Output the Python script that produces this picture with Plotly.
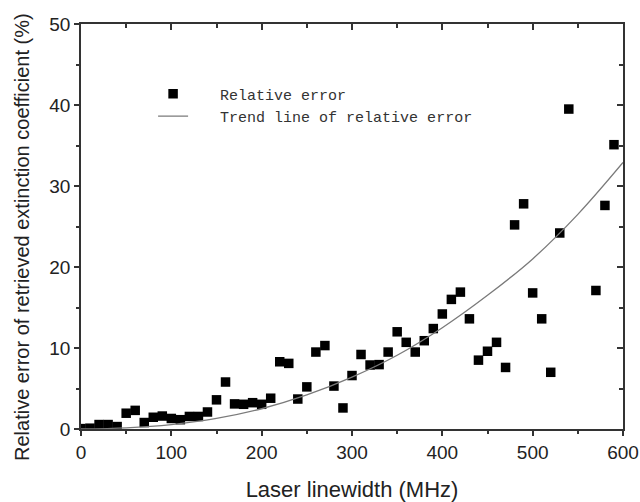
import plotly.graph_objects as go

# Measured points: laser linewidth (MHz) and relative error (%)
linewidth = [0, 10, 20, 30, 40, 50, 60, 70, 80, 90,
             100, 110, 120, 130, 140, 150, 160, 170, 180, 190,
             200, 210, 220, 230, 240, 250, 260, 270, 280, 290,
             300, 310, 320, 330, 340, 350, 360, 370, 380, 390,
             400, 410, 420, 430, 440, 450, 460, 470, 480, 490,
             500, 510, 520, 530, 540, 570, 580, 590]
rel_error = [0.05, 0.1, 0.55, 0.55, 0.3, 1.95, 2.3, 0.8, 1.45, 1.6,
             1.3, 1.15, 1.55, 1.55, 2.1, 3.6, 5.8, 3.1, 3.05, 3.25,
             3.05, 3.8, 8.3, 8.1, 3.7, 5.2, 9.5, 10.3, 5.3, 2.6,
             6.6, 9.2, 7.9, 7.95, 9.5, 12.0, 10.7, 9.5, 10.9, 12.4,
             14.2, 16.0, 16.9, 13.6, 8.5, 9.6, 10.7, 7.6, 25.2, 27.8,
             16.8, 13.6, 7.0, 24.2, 39.5, 17.1, 27.6, 35.1]

# Trend line
trend_x = [0, 50, 100, 150, 200, 250, 300, 350, 400, 450, 500, 550, 600]
trend_y = [0.0, 0.15, 0.55, 1.3, 2.5, 4.2, 6.4, 9.1, 12.5, 16.5, 21.0, 26.5, 32.9]

x_ticks = [0, 100, 200, 300, 400, 500, 600]
y_ticks = [0, 10, 20, 30, 40, 50]

x_title = "Laser linewidth (MHz)"
y_title = "Relative error of retrieved extinction coefficient (%)"

NB = "\u00a0"
SANS = "Liberation Sans, Arial, sans-serif"
fig = go.Figure()
fig.add_trace(go.Scatter(
    x=linewidth, y=rel_error, mode="markers",
    name=NB * 3 + "Relative error",
    marker=dict(symbol="square", size=9.5, color="black"),
))
fig.add_trace(go.Scatter(
    x=trend_x, y=trend_y, mode="lines",
    name=NB * 3 + "Trend line of relative error",
    line=dict(color="#7a7a7a", width=1.3, shape="spline"),
))
# empty trace to anchor the mirrored top/right axes
fig.add_trace(go.Scatter(x=[], y=[], xaxis="x2", yaxis="y2", showlegend=False))

axis_font = dict(family=SANS, size=19, color="#222")
line_col = "#333"

fig.update_layout(
    width=640, height=502,
    margin=dict(l=81, r=17, t=24, b=73),
    paper_bgcolor="white", plot_bgcolor="white",
    font=dict(family=SANS, color="#222"),
    xaxis=dict(
        range=[0, 600], tickvals=x_ticks, ticks="outside", ticklen=5, tickwidth=1.5,
        tickcolor=line_col, showline=True, linecolor=line_col, linewidth=1.5,
        showgrid=False, zeroline=False, tickfont=axis_font, automargin=False,
        minor=dict(dtick=50, ticks="outside", ticklen=3, tickwidth=1.5, tickcolor=line_col, showgrid=False),
        title=dict(text=x_title, font=dict(size=22, family=SANS, color="#222"), standoff=20),
    ),
    yaxis=dict(
        range=[0, 50], tickvals=y_ticks, ticks="outside", ticklen=5, tickwidth=1.5,
        tickcolor=line_col, showline=True, linecolor=line_col, linewidth=1.5,
        showgrid=False, zeroline=False, tickfont=axis_font, automargin=False,
        minor=dict(dtick=5, ticks="outside", ticklen=3, tickwidth=1.5, tickcolor=line_col, showgrid=False),
    ),
    xaxis2=dict(
        overlaying="x", side="top", range=[0, 600], tickvals=x_ticks, ticks="inside",
        ticklen=6, tickwidth=1.5, tickcolor=line_col, showticklabels=False,
        showline=True, linecolor=line_col, linewidth=1.5, showgrid=False, zeroline=False,
        automargin=False,
        minor=dict(dtick=50, ticks="inside", ticklen=4, tickwidth=1.5, tickcolor=line_col, showgrid=False),
        anchor="y2",
    ),
    yaxis2=dict(
        overlaying="y", side="right", range=[0, 50], tickvals=y_ticks, ticks="inside",
        ticklen=6, tickwidth=1.5, tickcolor=line_col, showticklabels=False,
        showline=True, linecolor=line_col, linewidth=1.5, showgrid=False, zeroline=False,
        automargin=False,
        minor=dict(dtick=5, ticks="inside", ticklen=4, tickwidth=1.5, tickcolor=line_col, showgrid=False),
        anchor="x2",
    ),
    annotations=[dict(
        text=y_title, textangle=-90, showarrow=False,
        xref="paper", yref="paper", x=-0.109, y=0.474,
        xanchor="center", yanchor="middle",
        font=dict(size=20, family=SANS, color="#222"),
    )],
    showlegend=True,
    legend=dict(
        x=0.133, y=0.868, xanchor="left", yanchor="top",
        bgcolor="rgba(0,0,0,0)", borderwidth=0,
        font=dict(family="Liberation Mono, Courier New, monospace", size=15, color="#333"),
        tracegroupgap=0,
    ),
)

fig.write_html("out.html")
